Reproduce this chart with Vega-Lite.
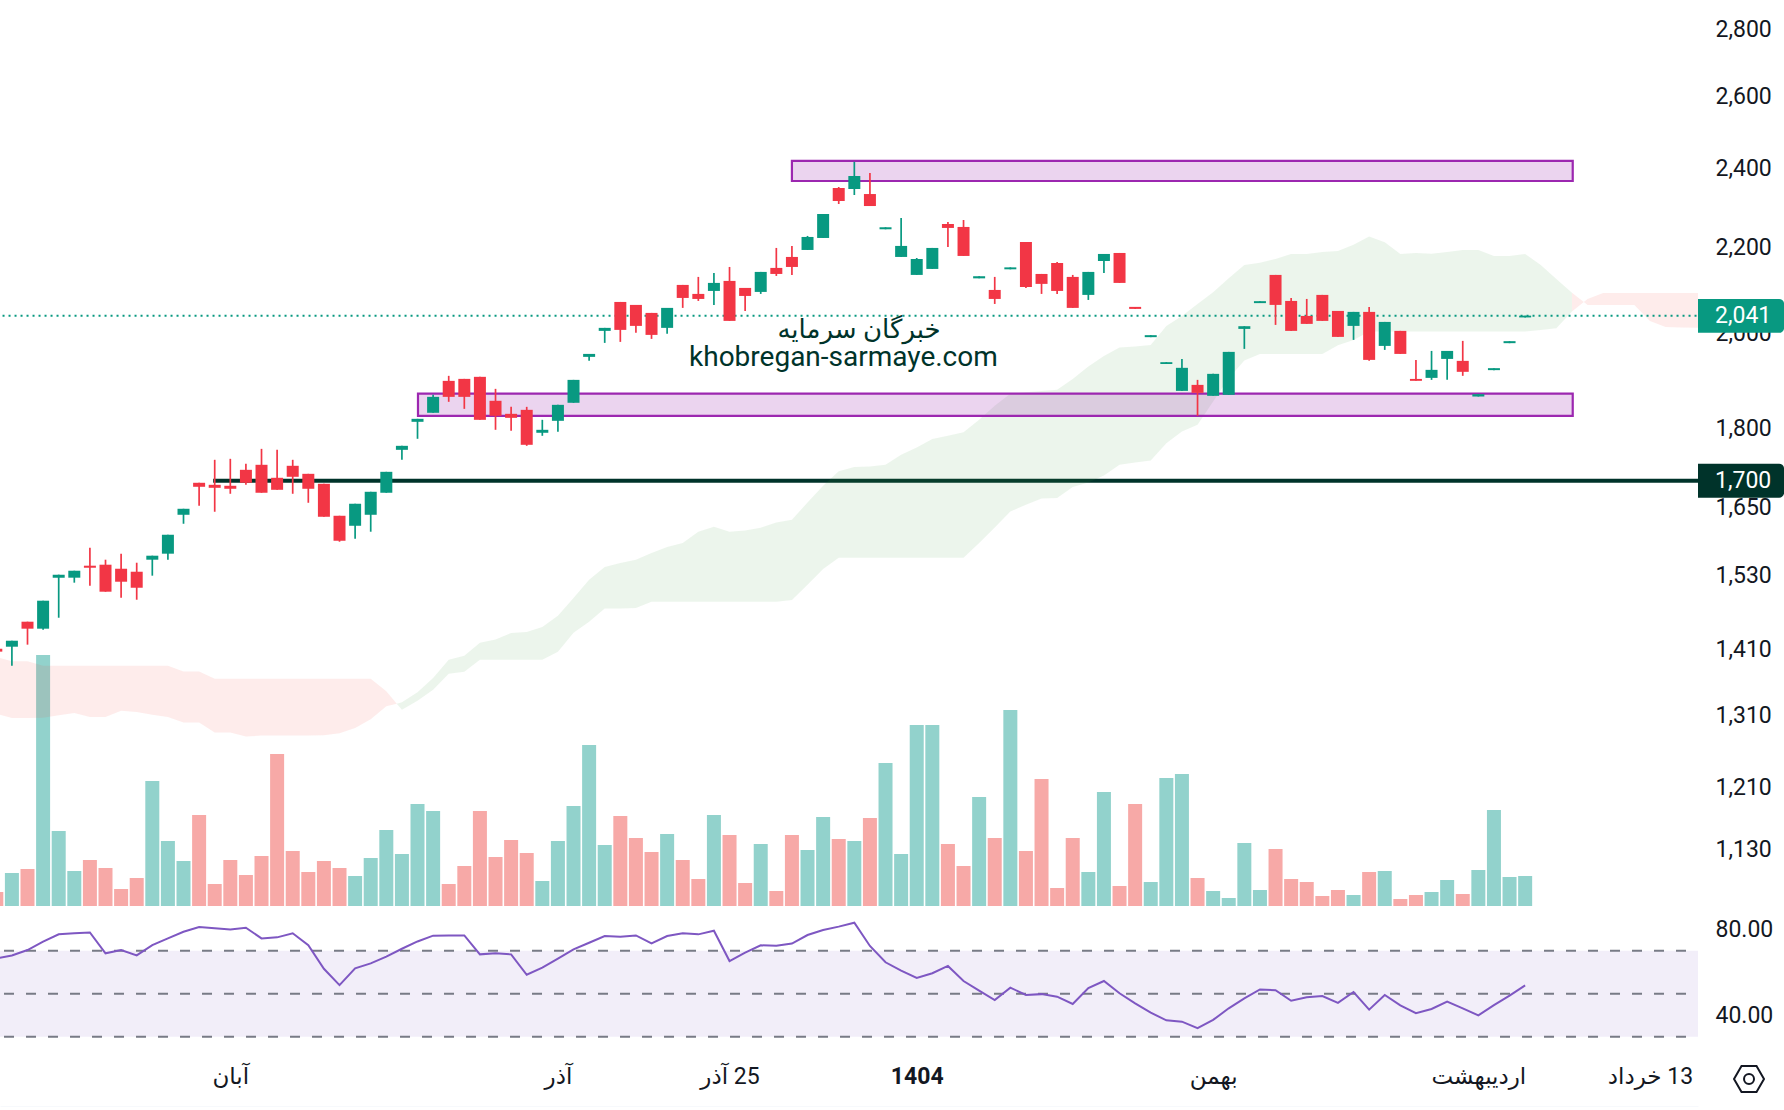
{
  "$schema": "https://vega.github.io/schema/vega-lite/v6.json",
  "background": "white",
  "padding": 0,
  "spacing": 1,
  "bounds": "flush",
  "config": {
    "font": "Roboto",
    "view": {"stroke": null},
    "scale": {"continuousPadding": 0},
    "axis": {"labelFont": "Roboto, DejaVu Sans", "labelFontSize": 23, "labelColor": "#131722", "grid": false, "ticks": false, "domain": false, "title": null}
  },
  "datasets": {
    "candles": [
      {"i":-1,"d":"down","o":1411.8,"h":1411.8,"l":1407.3,"c":1407.3,"v":14,"r":66.4},
      {"i":0,"d":"up","o":1415,"h":1424.4,"l":1385.6,"c":1424.4,"v":33,"r":67.8},
      {"i":1,"d":"down","o":1454.7,"h":1454.7,"l":1418.2,"c":1443.5,"v":37,"r":70.3},
      {"i":2,"d":"up","o":1443.5,"h":1488.9,"l":1441.9,"c":1488.9,"v":251,"r":74.2},
      {"i":3,"d":"up","o":1527.3,"h":1532.4,"l":1461.1,"c":1532.4,"v":75,"r":77.6},
      {"i":4,"d":"up","o":1527.3,"h":1539.1,"l":1518.9,"c":1539.1,"v":35,"r":78.1},
      {"i":5,"d":"down","o":1547.7,"h":1578.8,"l":1513.8,"c":1544.2,"v":46,"r":78.5},
      {"i":6,"d":"down","o":1549.4,"h":1558,"l":1503.8,"c":1503.8,"v":38,"r":68.8},
      {"i":7,"d":"down","o":1542.5,"h":1568.4,"l":1493.8,"c":1520.5,"v":17,"r":70.3},
      {"i":8,"d":"down","o":1537.4,"h":1552.8,"l":1490.5,"c":1510.4,"v":28,"r":67.8},
      {"i":9,"d":"up","o":1558,"h":1564.9,"l":1530.7,"c":1564.9,"v":125,"r":72.6},
      {"i":10,"d":"up","o":1568.4,"h":1601.6,"l":1558,"c":1601.6,"v":65,"r":75.7},
      {"i":11,"d":"up","o":1637.4,"h":1648.3,"l":1621.2,"c":1648.3,"v":45,"r":78.8},
      {"i":12,"d":"down","o":1696.4,"h":1696.4,"l":1653.8,"c":1688.9,"v":91,"r":81},
      {"i":13,"d":"down","o":1692.6,"h":1740.1,"l":1642.9,"c":1687,"v":22,"r":80.4},
      {"i":14,"d":"down","o":1690.8,"h":1742,"l":1675.9,"c":1685.2,"v":46,"r":79.9},
      {"i":15,"d":"down","o":1720.9,"h":1732.4,"l":1692.6,"c":1696.4,"v":31,"r":80.7},
      {"i":16,"d":"down","o":1730.5,"h":1761.3,"l":1677.8,"c":1677.8,"v":50,"r":75.7},
      {"i":17,"d":"down","o":1705.8,"h":1759.4,"l":1683.3,"c":1683.3,"v":152,"r":76.2},
      {"i":18,"d":"down","o":1728.6,"h":1740.1,"l":1675.9,"c":1707.7,"v":55,"r":78.1},
      {"i":19,"d":"down","o":1713.3,"h":1713.3,"l":1659.3,"c":1685.2,"v":34,"r":72.6},
      {"i":20,"d":"down","o":1694.5,"h":1694.5,"l":1633.8,"c":1633.8,"v":45,"r":61.6},
      {"i":21,"d":"down","o":1635.6,"h":1635.6,"l":1589.3,"c":1591,"v":38,"r":54},
      {"i":22,"d":"up","o":1617.6,"h":1657.5,"l":1594.6,"c":1657.5,"v":30,"r":61.8},
      {"i":23,"d":"up","o":1637.4,"h":1679.6,"l":1607,"c":1679.6,"v":48,"r":64.1},
      {"i":24,"d":"up","o":1677.8,"h":1717.1,"l":1677.8,"c":1717.1,"v":76,"r":67.2},
      {"i":25,"d":"up","o":1759.4,"h":1767.2,"l":1740.1,"c":1767.2,"v":52,"r":70.9},
      {"i":26,"d":"up","o":1814.8,"h":1820.8,"l":1781,"c":1820.8,"v":102,"r":74.3},
      {"i":27,"d":"up","o":1833,"h":1869.8,"l":1833,"c":1865.6,"v":95,"r":77},
      {"i":28,"d":"down","o":1898.9,"h":1909.5,"l":1855.4,"c":1865.6,"v":22,"r":77.1},
      {"i":29,"d":"down","o":1903.1,"h":1903.1,"l":1841,"c":1865.6,"v":40,"r":77.1},
      {"i":30,"d":"down","o":1907.4,"h":1907.4,"l":1818.8,"c":1818.8,"v":95,"r":68.3},
      {"i":31,"d":"down","o":1857.5,"h":1882.2,"l":1798.8,"c":1826.9,"v":49,"r":68.8},
      {"i":32,"d":"down","o":1830.9,"h":1845.1,"l":1796.8,"c":1822.8,"v":66,"r":68.3},
      {"i":33,"d":"down","o":1839,"h":1845.1,"l":1767.2,"c":1769.2,"v":53,"r":58.8},
      {"i":34,"d":"up","o":1792.9,"h":1818.8,"l":1786.9,"c":1798.8,"v":25,"r":62.1},
      {"i":35,"d":"up","o":1816.8,"h":1849.2,"l":1794.9,"c":1849.2,"v":65,"r":66.3},
      {"i":36,"d":"up","o":1853.4,"h":1901,"l":1853.4,"c":1901,"v":100,"r":70.6},
      {"i":37,"d":"up","o":1950,"h":1956.4,"l":1941.4,"c":1956.4,"v":161,"r":73.7},
      {"i":38,"d":"up","o":2006.9,"h":2013.6,"l":1980.4,"c":2013.6,"v":61,"r":76.8},
      {"i":39,"d":"down","o":2072.2,"h":2072.2,"l":1982.6,"c":2009.1,"v":90,"r":76.5},
      {"i":40,"d":"down","o":2065.4,"h":2065.4,"l":2002.5,"c":2018,"v":68,"r":77.1},
      {"i":41,"d":"down","o":2047.2,"h":2047.2,"l":1989.2,"c":1998,"v":54,"r":73.4},
      {"i":42,"d":"up","o":2013.6,"h":2058.6,"l":2000.3,"c":2058.6,"v":72,"r":76.8},
      {"i":43,"d":"down","o":2111.6,"h":2111.6,"l":2058.6,"c":2081.4,"v":46,"r":78.1},
      {"i":44,"d":"down","o":2090.7,"h":2130.4,"l":2074.5,"c":2079.1,"v":27,"r":77.6},
      {"i":45,"d":"up","o":2097.6,"h":2139.8,"l":2065.4,"c":2116.3,"v":91,"r":79.3},
      {"i":46,"d":"down","o":2121,"h":2154,"l":2029.2,"c":2029.2,"v":71,"r":65.2},
      {"i":47,"d":"down","o":2104.6,"h":2104.6,"l":2051.7,"c":2086,"v":23,"r":69.1},
      {"i":48,"d":"up","o":2095.3,"h":2142.2,"l":2090.7,"c":2142.2,"v":62,"r":72.5},
      {"i":49,"d":"down","o":2151.7,"h":2199.8,"l":2132.7,"c":2137.4,"v":15,"r":72.3},
      {"i":50,"d":"down","o":2178,"h":2204.7,"l":2135.1,"c":2154,"v":71,"r":73.3},
      {"i":51,"d":"up","o":2194.9,"h":2229.2,"l":2194.9,"c":2226.7,"v":56,"r":77.3},
      {"i":52,"d":"up","o":2224.2,"h":2284,"l":2224.2,"c":2284,"v":89,"r":79.6},
      {"i":53,"d":"down","o":2350.6,"h":2353.2,"l":2309.4,"c":2317,"v":67,"r":81.2},
      {"i":54,"d":"up","o":2348,"h":2419.7,"l":2332.5,"c":2382,"v":65,"r":83},
      {"i":55,"d":"down","o":2335,"h":2390,"l":2304.2,"c":2304.2,"v":88,"r":72.2},
      {"i":56,"d":"up","o":2245.7,"h":2250.7,"l":2245.7,"c":2250.7,"v":143,"r":64.6},
      {"i":57,"d":"up","o":2178,"h":2273.9,"l":2178,"c":2204.7,"v":52,"r":60.7},
      {"i":58,"d":"up","o":2135.1,"h":2175.5,"l":2135.1,"c":2173.1,"v":181,"r":57.3},
      {"i":59,"d":"up","o":2149.3,"h":2199.8,"l":2149.3,"c":2199.8,"v":181,"r":59.5},
      {"i":60,"d":"down","o":2258.9,"h":2263.9,"l":2202.3,"c":2249,"v":62,"r":62.9},
      {"i":61,"d":"down","o":2251.5,"h":2268.9,"l":2180.4,"c":2180.4,"v":40,"r":55.9},
      {"i":62,"d":"up","o":2127,"h":2132,"l":2127,"c":2132,"v":109,"r":51.4},
      {"i":63,"d":"down","o":2099.9,"h":2130.4,"l":2067.6,"c":2079.1,"v":68,"r":47},
      {"i":64,"d":"up","o":2148.4,"h":2153,"l":2148.4,"c":2153,"v":196,"r":52.8},
      {"i":65,"d":"down","o":2214.4,"h":2214.4,"l":2104.6,"c":2106.9,"v":55,"r":49.4},
      {"i":66,"d":"down","o":2137.4,"h":2137.4,"l":2090.7,"c":2114,"v":127,"r":49.8},
      {"i":67,"d":"down","o":2163.5,"h":2165.9,"l":2090.7,"c":2097.6,"v":18,"r":48.6},
      {"i":68,"d":"down","o":2130.4,"h":2135.1,"l":2058.6,"c":2058.6,"v":68,"r":45.2},
      {"i":69,"d":"up","o":2088.4,"h":2142.2,"l":2076.8,"c":2142.2,"v":34,"r":52.6},
      {"i":70,"d":"up","o":2168.3,"h":2185.2,"l":2139.8,"c":2185.2,"v":114,"r":55.9},
      {"i":71,"d":"down","o":2187.6,"h":2187.6,"l":2116.3,"c":2116.3,"v":20,"r":50.2},
      {"i":72,"d":"down","o":2060.9,"h":2060.9,"l":2056.3,"c":2056.3,"v":102,"r":45.5},
      {"i":73,"d":"up","o":1993,"h":1997.4,"l":1993,"c":1997.4,"v":24,"r":41.2},
      {"i":74,"d":"up","o":1934.7,"h":1938.6,"l":1934.7,"c":1938.6,"v":128,"r":37.6},
      {"i":75,"d":"up","o":1878,"h":1945.6,"l":1878,"c":1926.5,"v":132,"r":37},
      {"i":76,"d":"down","o":1890.5,"h":1901,"l":1826.9,"c":1873.9,"v":28,"r":34},
      {"i":77,"d":"up","o":1867.7,"h":1913.7,"l":1867.7,"c":1913.7,"v":15,"r":37.8},
      {"i":78,"d":"up","o":1869.8,"h":1960.8,"l":1869.8,"c":1960.8,"v":8,"r":43.2},
      {"i":79,"d":"up","o":2011.3,"h":2017.3,"l":1967.3,"c":2017.3,"v":63,"r":47.8},
      {"i":80,"d":"up","o":2069.5,"h":2074,"l":2069.5,"c":2074,"v":16,"r":52},
      {"i":81,"d":"down","o":2135.1,"h":2135.1,"l":2020.2,"c":2065.4,"v":57,"r":51.6},
      {"i":82,"d":"down","o":2074.5,"h":2081.4,"l":2006.9,"c":2006.9,"v":27,"r":46.7},
      {"i":83,"d":"down","o":2040.4,"h":2079.1,"l":2022.5,"c":2022.5,"v":24,"r":48.3},
      {"i":84,"d":"down","o":2088.4,"h":2088.4,"l":2029.2,"c":2029.2,"v":10,"r":48.9},
      {"i":85,"d":"down","o":2051.7,"h":2051.7,"l":1993.6,"c":1993.6,"v":16,"r":45.7},
      {"i":86,"d":"up","o":2018,"h":2049.5,"l":1987,"c":2049.5,"v":11,"r":50.8},
      {"i":87,"d":"down","o":2049.5,"h":2060.9,"l":1941.4,"c":1943.5,"v":34,"r":42.6},
      {"i":88,"d":"up","o":1973.8,"h":2026.9,"l":1965.1,"c":2026.9,"v":35,"r":49.4},
      {"i":89,"d":"down","o":2006.9,"h":2006.9,"l":1956.4,"c":1956.4,"v":7,"r":44.6},
      {"i":90,"d":"down","o":1903,"h":1943.5,"l":1899,"c":1899,"v":11,"r":40.9},
      {"i":91,"d":"up","o":1905.2,"h":1962.9,"l":1901,"c":1922.2,"v":14,"r":42.9},
      {"i":92,"d":"up","o":1945.6,"h":1962.9,"l":1901,"c":1962.9,"v":26,"r":46.3},
      {"i":93,"d":"down","o":1941.4,"h":1984.8,"l":1909.5,"c":1918,"v":12,"r":43.2},
      {"i":94,"d":"up","o":1866.3,"h":1871.2,"l":1866.3,"c":1871.2,"v":36,"r":39.9},
      {"i":95,"d":"up","o":1921.6,"h":1925.8,"l":1921.6,"c":1925.8,"v":96,"r":44.7},
      {"i":96,"d":"up","o":1979.8,"h":1984.2,"l":1979.8,"c":1984.2,"v":29,"r":49.1},
      {"i":97,"d":"up","o":2037,"h":2041,"l":2037,"c":2041,"v":30,"r":53.9}
    ],
    "cloud": [
      {"s":"r1","i":-0.763,"a":1397.5,"b":1312.5},{"s":"r1","i":0,"a":1392.3,"b":1307.7},{"s":"r1","i":1,"a":1392.3,"b":1307.7},
      {"s":"r1","i":2,"a":1385.6,"b":1308.2},{"s":"r1","i":3,"a":1385.6,"b":1311.5},{"s":"r1","i":4,"a":1385.6,"b":1315},
      {"s":"r1","i":5,"a":1385.6,"b":1309.2},{"s":"r1","i":6,"a":1385.6,"b":1309.2},{"s":"r1","i":7,"a":1385.6,"b":1318.3},
      {"s":"r1","i":8,"a":1385.6,"b":1316.4},{"s":"r1","i":9,"a":1385.6,"b":1312.5},{"s":"r1","i":10,"a":1385.6,"b":1309.2},
      {"s":"r1","i":11,"a":1376.9,"b":1301},{"s":"r1","i":12,"a":1376.9,"b":1301},{"s":"r1","i":13,"a":1365.8,"b":1286.7},
      {"s":"r1","i":14,"a":1365.8,"b":1286.7},{"s":"r1","i":15,"a":1365.8,"b":1281.1},{"s":"r1","i":16,"a":1365.8,"b":1282.5},
      {"s":"r1","i":17,"a":1365.8,"b":1282.5},{"s":"r1","i":18,"a":1365.8,"b":1282.5},{"s":"r1","i":19,"a":1365.8,"b":1282.5},
      {"s":"r1","i":20,"a":1365.8,"b":1282.9},{"s":"r1","i":21,"a":1365.8,"b":1285.7},{"s":"r1","i":22,"a":1365.8,"b":1293.4},
      {"s":"r1","i":23,"a":1365.8,"b":1305.7},{"s":"r1","i":24,"a":1346.8,"b":1324.6},{"s":"r1","i":24.67,"a":1328.6,"b":1328.6},
      {"s":"g","i":24.67,"a":1328.6,"b":1328.6},{"s":"g","i":25,"a":1330.5,"b":1319.8},{"s":"g","i":26,"a":1345.3,"b":1333},
      {"s":"g","i":27,"a":1366.9,"b":1349.3},{"s":"g","i":28,"a":1394.9,"b":1373.4},{"s":"g","i":29,"a":1401.1,"b":1376.5},
      {"s":"g","i":30,"a":1421.3,"b":1394.9},{"s":"g","i":31,"a":1426.5,"b":1394.9},{"s":"g","i":32,"a":1436.7,"b":1394.9},
      {"s":"g","i":33,"a":1438.2,"b":1394.9},{"s":"g","i":34,"a":1446.2,"b":1394.9},{"s":"g","i":35,"a":1464.3,"b":1407.3},
      {"s":"g","i":36,"a":1493.3,"b":1437.1},{"s":"g","i":37,"a":1523.9,"b":1454.7},{"s":"g","i":38,"a":1545.4,"b":1476.2},
      {"s":"g","i":39,"a":1552.3,"b":1476.2},{"s":"g","i":40,"a":1558,"b":1476.9},{"s":"g","i":41,"a":1569.6,"b":1487.2},
      {"s":"g","i":42,"a":1580.1,"b":1487.2},{"s":"g","i":43,"a":1587,"b":1487.2},{"s":"g","i":44,"a":1607,"b":1487.2},
      {"s":"g","i":45,"a":1615.9,"b":1487.2},{"s":"g","i":46,"a":1607,"b":1487.2},{"s":"g","i":47,"a":1609.3,"b":1487.2},
      {"s":"g","i":48,"a":1614.1,"b":1487.2},{"s":"g","i":49,"a":1623.6,"b":1487.2},{"s":"g","i":50,"a":1628.4,"b":1490},
      {"s":"g","i":51,"a":1659.8,"b":1515.5},{"s":"g","i":52,"a":1690.8,"b":1542},{"s":"g","i":53,"a":1718.4,"b":1561.5},
      {"s":"g","i":54,"a":1726.1,"b":1561.5},{"s":"g","i":55,"a":1727.3,"b":1561.5},{"s":"g","i":56,"a":1730.5,"b":1561.5},
      {"s":"g","i":57,"a":1749.7,"b":1561.5},{"s":"g","i":58,"a":1763.8,"b":1561.5},{"s":"g","i":59,"a":1780.4,"b":1561.5},
      {"s":"g","i":60,"a":1786.9,"b":1561.5},{"s":"g","i":61,"a":1794.2,"b":1561.5},{"s":"g","i":62,"a":1818.8,"b":1587},
      {"s":"g","i":63,"a":1847.2,"b":1614.6},{"s":"g","i":64,"a":1871.9,"b":1643.4},{"s":"g","i":65,"a":1875.3,"b":1655.6},
      {"s":"g","i":66,"a":1878,"b":1667.2},{"s":"g","i":67,"a":1880.1,"b":1668},{"s":"g","i":68,"a":1903.1,"b":1688.3},
      {"s":"g","i":69,"a":1929.2,"b":1696.9},{"s":"g","i":70,"a":1952.1,"b":1710.1},{"s":"g","i":71,"a":1970.1,"b":1730.5},
      {"s":"g","i":72,"a":1972.3,"b":1734.9},{"s":"g","i":73,"a":1976,"b":1738.7},{"s":"g","i":74,"a":2018,"b":1772.5},
      {"s":"g","i":75,"a":2040.4,"b":1795.4},{"s":"g","i":76,"a":2067.6,"b":1808.8},{"s":"g","i":77,"a":2094.6,"b":1856},
      {"s":"g","i":78,"a":2127.3,"b":1904.6},{"s":"g","i":79,"a":2158.8,"b":1942},{"s":"g","i":80,"a":2164.3,"b":1956.4},
      {"s":"g","i":81,"a":2173.1,"b":1956.4},{"s":"g","i":82,"a":2185.2,"b":1956.4},{"s":"g","i":83,"a":2185.2,"b":1956.4},
      {"s":"g","i":84,"a":2190,"b":1956.4},{"s":"g","i":85,"a":2192.5,"b":1975.4},{"s":"g","i":86,"a":2207.8,"b":1987},
      {"s":"g","i":87,"a":2227.9,"b":2005.3},{"s":"g","i":88,"a":2213.7,"b":2005.3},{"s":"g","i":89,"a":2185.2,"b":2005.3},
      {"s":"g","i":90,"a":2187.6,"b":2005.3},{"s":"g","i":91,"a":2185.9,"b":2005.3},{"s":"g","i":92,"a":2190,"b":2005.3},
      {"s":"g","i":93,"a":2194.9,"b":2005.3},{"s":"g","i":94,"a":2194.9,"b":2005.3},{"s":"g","i":95,"a":2180.4,"b":2005.3},
      {"s":"g","i":96,"a":2180.4,"b":2005.3},{"s":"g","i":97,"a":2185.2,"b":2005.3},{"s":"g","i":98,"a":2158.8,"b":2009.1},
      {"s":"g","i":99,"a":2125.7,"b":2012.9},{"s":"g","i":100,"a":2093.6,"b":2050.2},
      {"s":"r2","i":100,"a":2093.6,"b":2050.2},{"s":"r2","i":100.76,"a":2072.2,"b":2072.2},{"s":"r2","i":101,"a":2079.1,"b":2065.4},
      {"s":"r2","i":102,"a":2092.9,"b":2065.4},{"s":"r2","i":104,"a":2092.9,"b":2065.4},{"s":"r2","i":105,"a":2092.9,"b":2029.2},
      {"s":"r2","i":106,"a":2092.9,"b":2015.8},{"s":"r2","i":107,"a":2092.9,"b":2014.7},{"s":"r2","i":108.08,"a":2092.9,"b":2013.6}
    ],
    "zones": [
      {"i":50,"i2":100.05,"a":2422.2,"b":2368.9},
      {"i":26.03,"i2":100.05,"a":1872.4,"b":1826.9}
    ],
    "tags": [
      {"k":"close","i":108.08,"i2":113.6,"t":109.17,"a":2079.1,"b":2002.5,"p":2041},
      {"k":"level","i":108.08,"i2":113.6,"t":109.17,"a":1732.4,"b":1668.5,"p":1700}
    ],
    "brand": [
      {"i":54.3,"p":2009,"label":"خبرگان سرمایه"},
      {"i":53.3,"p":1947,"label":"khobregan-sarmaye.com"}
    ]
  },
  "vconcat": [
    {
      "width": 1698,
      "height": 907,
      "resolve": {"scale": {"y": "independent", "color": "independent"}},
      "layer": [
        {
          "data": {"name": "candles"},
          "mark": {"type": "bar", "size": 14, "opacity": 0.5, "clip": true},
          "encoding": {
            "x": {"field": "i", "type": "quantitative", "scale": {"domain": [-0.763, 108.08], "nice": false, "zero": false}, "axis": {"labels": false, "domain": true, "domainColor": "#E0E3EB", "domainWidth": 2}},
            "y": {"field": "v", "type": "quantitative", "stack": null, "scale": {"domain": [-1, 906], "nice": false, "zero": false}, "axis": null},
            "color": {"field": "d", "type": "nominal", "scale": {"domain": ["up", "down"], "range": ["#26A69A", "#EF5350"]}, "legend": null}
          }
        },
        {
          "resolve": {"scale": {"color": "independent"}},
          "layer": [
            {
              "data": {"values": [{"i": 12.9, "i2": 108.08, "p": 1700}]},
              "mark": {"type": "rule", "color": "#00332A", "strokeWidth": 4},
              "encoding": {
                "x": {"field": "i", "type": "quantitative", "scale": {"domain": [-0.763, 108.08], "nice": false, "zero": false}, "axis": null},
                "x2": {"field": "i2"},
                "y": {"field": "p", "type": "quantitative", "scale": {"type": "log", "domain": [1060.9, 2894.2], "nice": false},
                  "axis": {"orient": "right", "values": [2800, 2600, 2400, 2200, 2000, 1800, 1650, 1530, 1410, 1310, 1210, 1130], "format": ",", "labelPadding": 17, "labelOffset": -0.5}}
              }
            },
            {
              "data": {"name": "cloud"},
              "mark": {"type": "area", "opacity": 0.1, "interpolate": "linear"},
              "encoding": {
                "x": {"field": "i", "type": "quantitative", "scale": {"domain": [-0.763, 108.08], "nice": false, "zero": false}, "axis": null},
                "y": {"field": "a", "type": "quantitative", "stack": null, "scale": {"type": "log", "domain": [1060.9, 2894.2], "nice": false}},
                "y2": {"field": "b"},
                "detail": {"field": "s"},
                "color": {"field": "s", "type": "nominal", "scale": {"domain": ["r1", "g", "r2"], "range": ["#F44336", "#43A047", "#F44336"]}, "legend": null}
              }
            },
            {
              "data": {"values": [{"i": -0.6, "i2": 108.08, "p": 2041}]},
              "mark": {"type": "rule", "color": "#089981", "strokeWidth": 2, "strokeDash": [2, 4]},
              "encoding": {
                "x": {"field": "i", "type": "quantitative", "scale": {"domain": [-0.763, 108.08], "nice": false, "zero": false}, "axis": null},
                "x2": {"field": "i2"},
                "y": {"field": "p", "type": "quantitative", "scale": {"type": "log", "domain": [1060.9, 2894.2], "nice": false}}
              }
            },
            {
              "data": {"name": "zones"},
              "mark": {"type": "rect", "fill": "#9C27B0", "fillOpacity": 0.2, "stroke": "#9C27B0", "strokeWidth": 2.2},
              "encoding": {
                "x": {"field": "i", "type": "quantitative", "scale": {"domain": [-0.763, 108.08], "nice": false, "zero": false}, "axis": null},
                "x2": {"field": "i2"},
                "y": {"field": "a", "type": "quantitative", "scale": {"type": "log", "domain": [1060.9, 2894.2], "nice": false}},
                "y2": {"field": "b"}
              }
            },
            {
              "data": {"name": "candles"},
              "mark": {"type": "rule", "strokeWidth": 1.7, "clip": true},
              "encoding": {
                "x": {"field": "i", "type": "quantitative", "scale": {"domain": [-0.763, 108.08], "nice": false, "zero": false}, "axis": null},
                "y": {"field": "l", "type": "quantitative", "scale": {"type": "log", "domain": [1060.9, 2894.2], "nice": false}},
                "y2": {"field": "h"},
                "color": {"field": "d", "type": "nominal", "scale": {"domain": ["up", "down"], "range": ["#089981", "#F23645"]}, "legend": null}
              }
            },
            {
              "data": {"name": "candles"},
              "mark": {"type": "bar", "size": 12, "clip": true},
              "encoding": {
                "x": {"field": "i", "type": "quantitative", "scale": {"domain": [-0.763, 108.08], "nice": false, "zero": false}, "axis": null},
                "y": {"field": "o", "type": "quantitative", "stack": null, "scale": {"type": "log", "domain": [1060.9, 2894.2], "nice": false}},
                "y2": {"field": "c"},
                "color": {"field": "d", "type": "nominal", "scale": {"domain": ["up", "down"], "range": ["#089981", "#F23645"]}, "legend": null}
              }
            },
            {
              "data": {"name": "tags"},
              "mark": {"type": "rect", "cornerRadiusTopRight": 5, "cornerRadiusBottomRight": 5},
              "encoding": {
                "x": {"field": "i", "type": "quantitative", "scale": {"domain": [-0.763, 108.08], "nice": false, "zero": false}, "axis": null},
                "x2": {"field": "i2"},
                "y": {"field": "a", "type": "quantitative", "scale": {"type": "log", "domain": [1060.9, 2894.2], "nice": false}},
                "y2": {"field": "b"},
                "color": {"field": "k", "type": "nominal", "scale": {"domain": ["close", "level"], "range": ["#089981", "#00332A"]}, "legend": null}
              }
            },
            {
              "data": {"name": "tags"},
              "mark": {"type": "text", "align": "left", "baseline": "middle", "color": "white", "font": "Roboto", "fontSize": 23},
              "encoding": {
                "x": {"field": "t", "type": "quantitative", "scale": {"domain": [-0.763, 108.08], "nice": false, "zero": false}, "axis": null},
                "y": {"field": "p", "type": "quantitative", "scale": {"type": "log", "domain": [1060.9, 2894.2], "nice": false}},
                "text": {"field": "p", "type": "quantitative", "format": ","}
              }
            },
            {
              "data": {"name": "brand"},
              "mark": {"type": "text", "align": "center", "baseline": "middle", "color": "#00332A", "font": "Roboto, DejaVu Sans"},
              "encoding": {
                "x": {"field": "i", "type": "quantitative", "scale": {"domain": [-0.763, 108.08], "nice": false, "zero": false}, "axis": null},
                "y": {"field": "p", "type": "quantitative", "scale": {"type": "log", "domain": [1060.9, 2894.2], "nice": false}},
                "size": {"condition": {"test": "datum.i > 54", "value": 26}, "value": 28},
                "text": {"field": "label"}
              }
            }
          ]
        }
      ]
    },
    {
      "width": 1698,
      "height": 199,
      "layer": [
        {
          "data": {"values": [{"i": -0.763, "i2": 108.08, "hi": 70, "lo": 30}]},
          "mark": {"type": "rect", "fill": "#7E57C2", "fillOpacity": 0.1},
          "encoding": {
            "x": {"field": "i", "type": "quantitative", "scale": {"domain": [-0.763, 108.08], "nice": false, "zero": false},
              "axis": {"values": [14, 35, 46, 58, 77, 94, 105], "domain": true, "domainColor": "#F0F3FA", "domainWidth": 2, "labelPadding": -31, "labelBaseline": "middle", "labelAlign": "center", "labelFlush": false, "labelOverlap": false,
                "labelExpr": "{'14':'آبان','35':'آذر','46':'آذر\u200e 25','58':'1404','77':'بهمن','94':'اردیبهشت','105':'خرداد\u200e 13'}[datum.value]",
                "labelFontWeight": {"condition": {"test": "datum.value == 58", "value": "bold"}, "value": "normal"}}},
            "x2": {"field": "i2"},
            "y": {"field": "hi", "type": "quantitative", "scale": {"domain": [-2.7, 89.86], "nice": false, "zero": false},
              "axis": {"orient": "right", "values": [80, 40], "format": ".2f", "labelPadding": 17}},
            "y2": {"field": "lo"}
          }
        },
        {
          "data": {"values": [{"i": -0.506, "i2": 108.08, "r": 70}, {"i": -0.506, "i2": 108.08, "r": 50}, {"i": -0.506, "i2": 108.08, "r": 30}]},
          "mark": {"type": "rule", "color": "#787B86", "strokeWidth": 2, "strokeDash": [10, 12]},
          "encoding": {
            "x": {"field": "i", "type": "quantitative", "scale": {"domain": [-0.763, 108.08], "nice": false, "zero": false}},
            "x2": {"field": "i2"},
            "y": {"field": "r", "type": "quantitative", "scale": {"domain": [-2.7, 89.86], "nice": false, "zero": false}}
          }
        },
        {
          "data": {"name": "candles"},
          "mark": {"type": "line", "color": "#7E57C2", "strokeWidth": 2, "clip": true},
          "encoding": {
            "x": {"field": "i", "type": "quantitative", "scale": {"domain": [-0.763, 108.08], "nice": false, "zero": false}},
            "y": {"field": "r", "type": "quantitative", "scale": {"domain": [-2.7, 89.86], "nice": false, "zero": false}}
          }
        },
        {
          "data": {"values": [{"i": 111.35, "r": 10.3}]},
          "mark": {"type": "point", "shape": "M-1,0L-0.5,-0.87L0.5,-0.87L1,0L0.5,0.87L-0.5,0.87Z", "size": 900, "filled": false, "stroke": "#131722", "strokeWidth": 2, "opacity": 1},
          "encoding": {
            "x": {"field": "i", "type": "quantitative", "scale": {"domain": [-0.763, 108.08], "nice": false, "zero": false}},
            "y": {"field": "r", "type": "quantitative", "scale": {"domain": [-2.7, 89.86], "nice": false, "zero": false}}
          }
        },
        {
          "data": {"values": [{"i": 111.35, "r": 10.3}]},
          "mark": {"type": "point", "shape": "circle", "size": 100, "filled": false, "stroke": "#131722", "strokeWidth": 2, "opacity": 1},
          "encoding": {
            "x": {"field": "i", "type": "quantitative", "scale": {"domain": [-0.763, 108.08], "nice": false, "zero": false}},
            "y": {"field": "r", "type": "quantitative", "scale": {"domain": [-2.7, 89.86], "nice": false, "zero": false}}
          }
        }
      ]
    }
  ]
}
